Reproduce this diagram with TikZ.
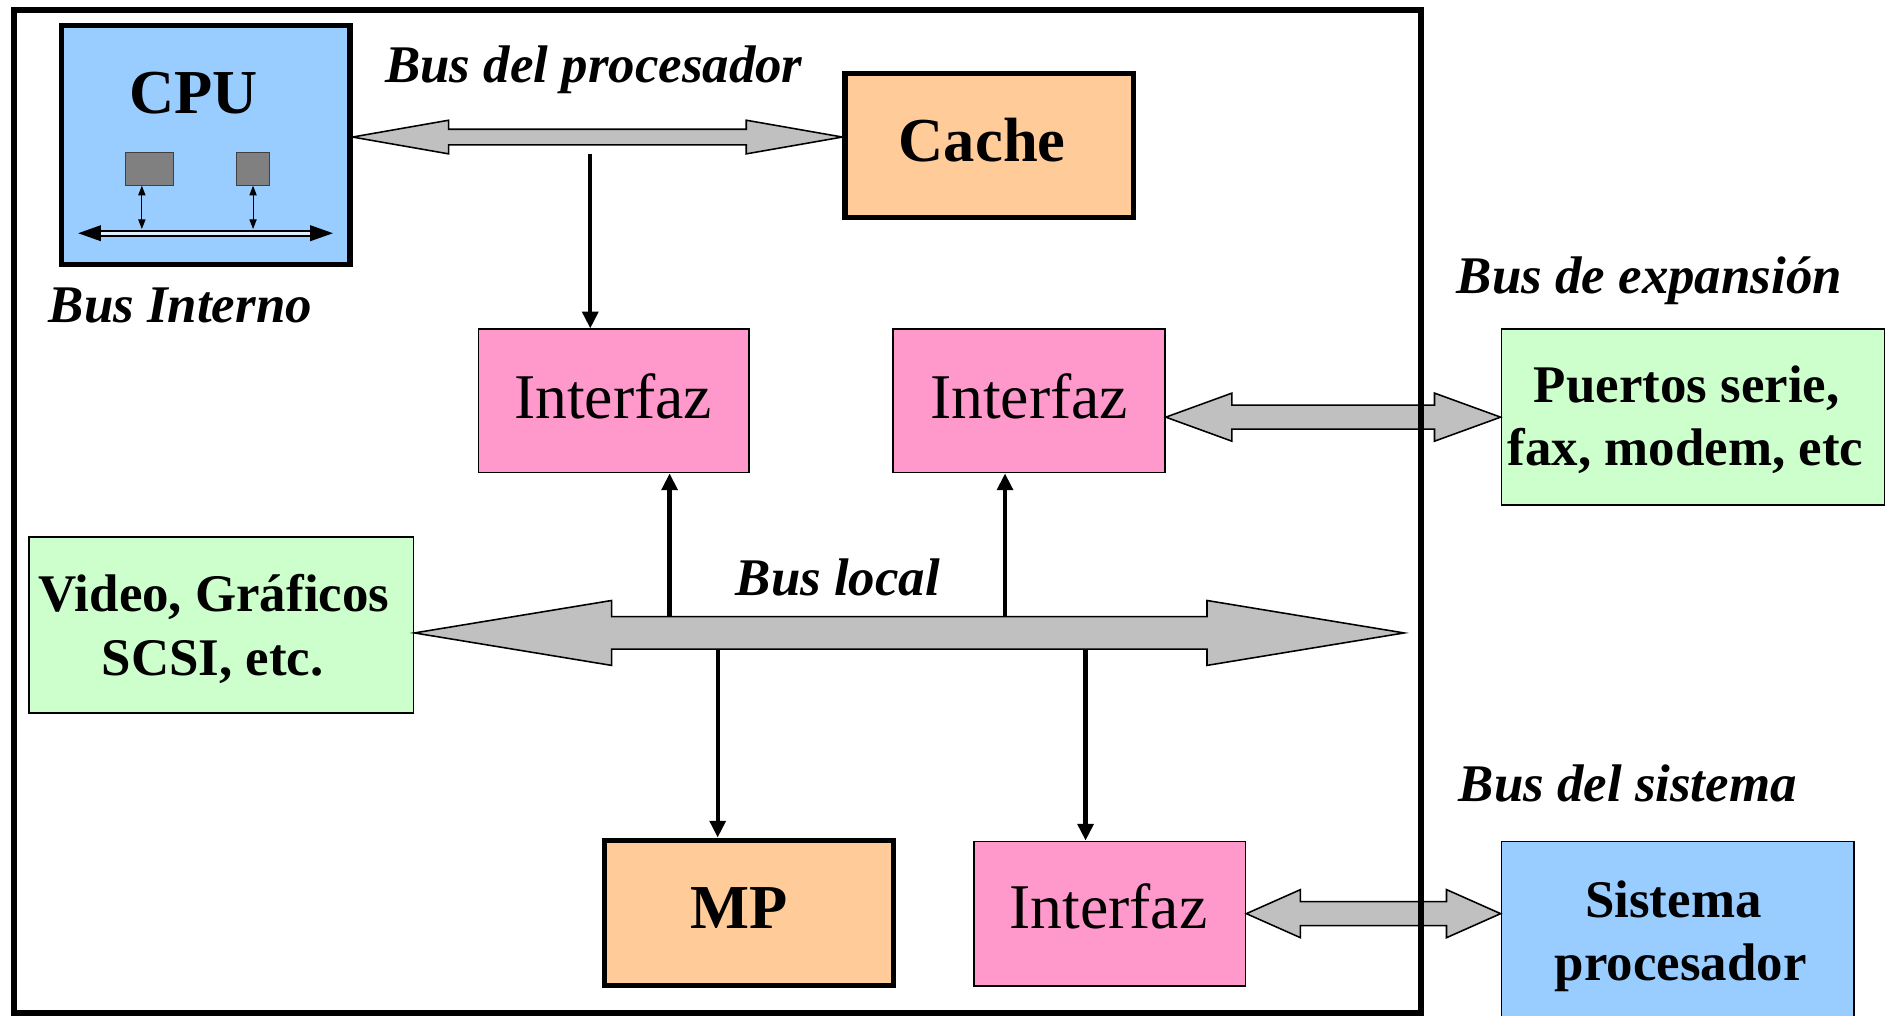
\documentclass[tikz,border=0pt]{standalone}
\usepackage{fontspec}
\setmainfont{Liberation Serif}
\usetikzlibrary{arrows.meta,calc}

\definecolor{cpublue}{HTML}{99CCFF}
\definecolor{memorange}{HTML}{FFCC99}
\definecolor{ifpink}{HTML}{FF99CC}
\definecolor{iogreen}{HTML}{CCFFCC}
\definecolor{busgray}{HTML}{C0C0C0}
\definecolor{reggray}{HTML}{808080}
\definecolor{ibusinner}{HTML}{DDEEFF}

\tikzset{
  box/.style={draw, rectangle, inner sep=0pt},
  thickbox/.style={box, line width=4.5pt},
  thinbox/.style={box, line width=1.5pt},
  txt/.style={anchor=base, inner sep=0pt},
  bigbold/.style={txt, font=\fontsize{52}{62}\selectfont\bfseries},
  ifacetext/.style={txt, font=\fontsize{53}{63}\selectfont},
  midbold/.style={txt, font=\fontsize{44}{53}\selectfont\bfseries},
  buslabel/.style={txt, font=\fontsize{44}{53}\selectfont\bfseries\itshape},
  busshape/.style={draw=black, fill=busgray, line width=1.3pt, line join=miter},
  link/.style={line width=3.6pt, -{Triangle[length=14pt,width=13pt]}},
  regbox/.style={draw=black!75, fill=reggray, line width=1pt, inner sep=0pt},
  ilink/.style={line width=0.9pt, {Triangle[length=8pt,width=6pt]}-{Triangle[length=8pt,width=6pt]}},
}

% horizontal block arrow with a head at each end:
% #1 left tip, #2 right tip, #3 head length, #4 head half-height, #5 shaft half-height
\newcommand{\busarrow}[5]{%
  \path[busshape] let \p1=(#1), \p2=(#2) in
    (\x1,\y1) -- (\x1+#3,\y1+#4) -- (\x1+#3,\y1+#5) -- (\x2-#3,\y1+#5)
    -- (\x2-#3,\y1+#4) -- (\x2,\y1) -- (\x2-#3,\y1-#4) -- (\x2-#3,\y1-#5)
    -- (\x1+#3,\y1-#5) -- (\x1+#3,\y1-#4) -- cycle;}

\begin{document}
\begin{tikzpicture}[x=1pt,y=-1pt]
\useasboundingbox (0,0) rectangle (1568,845);
\fill[white] (0,0) rectangle (1568,845);

% ---- boxes ----
\node[thickbox, fill=cpublue, minimum width=240pt, minimum height=199pt] (cpu) at (171,120.5) {};
\node[regbox, minimum width=40pt, minimum height=27pt] (reg1) at (124.5,140.5) {};
\node[regbox, minimum width=27pt, minimum height=27pt] (reg2) at (210.5,140.5) {};
\node[thickbox, fill=memorange, minimum width=240pt, minimum height=120pt] (cache) at (823,121) {};
\node[thinbox, fill=ifpink, minimum width=225pt, minimum height=119pt] (if1) at (510.5,333.5) {};
\node[thinbox, fill=ifpink, minimum width=226pt, minimum height=119pt] (if2) at (856,333.5) {};
\node[thinbox, fill=iogreen, minimum width=320pt, minimum height=146pt] (video) at (184,520) {};
\node[thinbox, fill=iogreen, minimum width=319pt, minimum height=146pt] (ports) at (1408.5,347) {};
\node[thickbox, fill=memorange, minimum width=240pt, minimum height=121pt] (mp) at (623,759.5) {};
\node[thinbox, fill=ifpink, minimum width=226pt, minimum height=120pt] (if3) at (923,760) {};
\node[thinbox, fill=cpublue, minimum width=293pt, minimum height=150pt] (sys) at (1395.5,775) {};

% ---- box texts ----
\node[bigbold] (cputext) at (161,94) {CPU};
\node[bigbold] (cachetext) at (817,134) {Cache};
\node[ifacetext] (if1text) at (510,348) {Interfaz};
\node[ifacetext] (if2text) at (856,348) {Interfaz};
\node[midbold] (videotext1) at (178,509) {Video, Gráficos};
\node[midbold] (videotext2) at (177,562) {SCSI, etc.};
\node[midbold] (portstext1) at (1403,335) {Puertos serie,};
\node[midbold] (portstext2) at (1402,387) {fax, modem, etc};
\node[bigbold] (mptext) at (614.5,772.5) {MP};
\node[ifacetext] (if3text) at (922,772.5) {Interfaz};
\node[midbold] (systext1) at (1392,763.5) {Sistema};
\node[midbold] (systext2) at (1398,815.5) {procesador};

% ---- bus labels ----
\node[buslabel] (lproc) at (494,69) {Bus del procesador};
\node[buslabel] (lint) at (150,268) {Bus Interno};
\node[buslabel] (lloc) at (697,495) {Bus local};
\node[buslabel] (lexp) at (1372,244) {Bus de expansión};
\node[buslabel] (lsys) at (1354,667) {Bus del sistema};

% ---- internal CPU bus ----
\coordinate (ibl) at (65,194);
\coordinate (ibr) at (277,194);
\draw[line width=1.5pt, double=ibusinner, double distance=2.6pt,
      {Triangle[length=19pt,width=13pt]}-{Triangle[length=19pt,width=13pt]}] (ibl) -- (ibr);
\coordinate (iv1) at (118,190.5);
\coordinate (iv2) at (210.5,190.5);
\draw[ilink] (iv1 |- reg1.south) -- (iv1);
\draw[ilink] (iv2 |- reg2.south) -- (iv2);

% ---- block buses ----
\coordinate (pbus) at (0,114);
\coordinate (lbus) at (0,526.5);
\coordinate (lbusend) at (1168,526.5);
\coordinate (ebus) at (0,347);
\coordinate (sbus) at (0,760);
\busarrow{cpu.east |- pbus}{cache.west |- pbus}{80pt}{14pt}{6.5pt}
\busarrow{video.east |- lbus}{lbusend}{164pt}{27pt}{13.5pt}
\busarrow{if2.east |- ebus}{ports.west |- ebus}{55pt}{20pt}{10pt}
\busarrow{if3.east |- sbus}{sys.west |- sbus}{45pt}{20pt}{10pt}

% ---- taps on the buses ----
\coordinate (tap1) at (491,128);
\coordinate (up1) at (557,513);
\coordinate (up2) at (836,513);
\coordinate (dn1) at (597,540);
\coordinate (dn2) at (903,540);
\draw[link] (tap1) -- (tap1 |- if1.north);
\draw[link] (up1) -- (up1 |- if1.south);
\draw[link] (up2) -- (up2 |- if2.south);
\draw[link] (dn1) -- (dn1 |- mp.north);
\draw[link] (dn2) -- (dn2 |- if3.north);

% ---- board outline ----
\draw[line width=5pt] (12,8) rectangle (1182,843);
\end{tikzpicture}
\end{document}
